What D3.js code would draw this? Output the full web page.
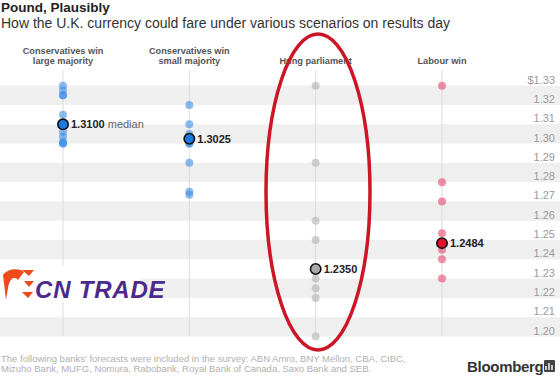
<!DOCTYPE html>
<html><head><meta charset="utf-8">
<script src="https://cdn.jsdelivr.net/npm/d3@7"></script>
<style>
html,body{margin:0;padding:0;background:#fff;overflow:hidden}
text{font-family:"Liberation Sans",Arial,Helvetica,sans-serif}
</style></head>
<body><svg id="chart" width="560" height="377"></svg>
<script>
// ---- data ----
const categories = ["Conservatives win large majority","Conservatives win small majority","Hung parliament","Labour win"];
const headerLines = [["Conservatives win","large majority"],["Conservatives win","small majority"],["Hung parliament"],["Labour win"]];
const largeMajority = [1.33, 1.3275, 1.325, 1.325, 1.315, 1.306, 1.3035, 1.301, 1.30, 1.30];
const smallMajority = [1.32, 1.31, 1.305, 1.30, 1.30, 1.29, 1.275, 1.2735];
const hungParliament = [1.33, 1.29, 1.26, 1.25, 1.23, 1.225, 1.22, 1.20];
const labourWin = [1.33, 1.28, 1.27, 1.2535, 1.2484, 1.245, 1.24, 1.23];
const medians = [1.3100, 1.3025, 1.2350, 1.2484];
const medianLabels = ["1.3100","1.3025","1.2350","1.2484"];
const tickValues = [1.33,1.32,1.31,1.30,1.29,1.28,1.27,1.26,1.25,1.24,1.23,1.22,1.21,1.20];
const tickLabels = ["$1.33","1.32","1.31","1.30","1.29","1.28","1.27","1.26","1.25","1.24","1.23","1.22","1.21","1.20"];
const bandStarts = [1.33,1.31,1.29,1.27,1.25,1.23,1.21];
const seriesValues = [largeMajority, smallMajority, hungParliament, labourWin];
const dotColors = ["#3d90e6","#3d90e6","#b3b3b3","#e8466f"];
const medianColors = ["#1a7ae0","#1a7ae0","#a8a8a8","#e0102c"];
const footnote = ["The following banks' forecasts were included in the survey: ABN Amro, BNY Mellon, CBA, CIBC,",
                  "Mizuho Bank, MUFG, Nomura, Rabobank, Royal Bank of Canada, Saxo Bank and SEB."];

const svg = d3.select("#chart");
const y = d3.scaleLinear().domain([1.20,1.33]).range([336.5,85.7]);
const x = d3.scalePoint().domain(categories).range([63,442]);

// bands
svg.append("g").selectAll("rect").data(bandStarts).join("rect")
  .attr("x",0).attr("width",560)
  .attr("y",d=>y(d)).attr("height",d=>y(d-0.01)-y(d))
  .attr("fill","#efefef");

// tick labels
svg.append("g").selectAll("text").data(tickValues).join("text")
  .attr("x",555).attr("y",d=>y(d)-2)
  .attr("text-anchor","end").attr("font-size",11).attr("fill","#9a9a9a")
  .text((d,i)=>tickLabels[i]);

// column lines
svg.append("g").selectAll("line").data(categories).join("line")
  .attr("x1",d=>x(d)).attr("x2",d=>x(d)).attr("y1",70).attr("y2",336)
  .attr("stroke","#dcdcdc").attr("stroke-width",1);

// headers
categories.forEach((c,i)=>{
  const lines = headerLines[i];
  const t = svg.append("text").attr("x",x(c)).attr("text-anchor","middle")
    .attr("font-size",9.2).attr("font-weight","bold").attr("fill","#555");
  lines.forEach((l,j)=>{
    t.append("tspan").attr("x",x(c)).attr("y",64 - (lines.length-1-j)*10.5).text(l);
  });
});

// dots
categories.forEach((c,i)=>{
  svg.append("g").selectAll("circle").data(seriesValues[i]).join("circle")
    .attr("cx",x(c)).attr("cy",d=>y(d)).attr("r",4)
    .attr("fill",dotColors[i]).attr("fill-opacity",0.6);
});

// medians
categories.forEach((c,i)=>{
  svg.append("circle").attr("cx",x(c)).attr("cy",y(medians[i])).attr("r",5.2)
    .attr("fill",medianColors[i]).attr("stroke","#111").attr("stroke-width",1.6);
  const t = svg.append("text").attr("x",x(c)+8).attr("y",y(medians[i])+4)
    .attr("font-size",11).attr("fill","#222");
  t.append("tspan").attr("font-weight","bold").text(medianLabels[i]);
  if(i===0) t.append("tspan").attr("fill","#666").text(" median");
});

// title
svg.append("text").attr("x",1).attr("y",12).attr("font-size",13.5).attr("font-weight","bold").attr("fill","#222").text("Pound, Plausibly");
svg.append("text").attr("x",1).attr("y",27.5).attr("font-size",14).attr("fill","#333")
  .text("How the U.K. currency could fare under various scenarios on results day");

// footnote
footnote.forEach((f,i)=>{
  svg.append("text").attr("x",1).attr("y",361.5+i*10.5).attr("font-size",9.5).attr("fill","#b0b0b0").text(f);
});

// Bloomberg logo
svg.append("text").attr("x",467).attr("y",372).attr("font-size",15).attr("font-weight","bold").attr("fill","#333")
  .attr("letter-spacing",-0.3).text("Bloomberg");
svg.append("rect").attr("x",544).attr("y",360).attr("width",11).attr("height",12).attr("rx",1).attr("fill","#444");
svg.append("path").attr("d","M546,370 L546,366 M549,370 L549,363 M552,370 L552,365").attr("stroke","#fff").attr("stroke-width",1.4);

// watermark
svg.append("rect").attr("x",0).attr("y",266).attr("width",140).attr("height",36).attr("fill","#fff");
svg.append("path").attr("d","M3,275 C8,268 20,268 24,272 L18,280 C14,276 10,278 8,288 L6,300 Z").attr("fill","#ee4a1c");
svg.append("path").attr("d","M22,270 L34,270 L29,276 Z M24,281 L34,281 L29,287 Z M22,292 L33,292 L28,298 Z").attr("fill","#ee4a1c");
svg.append("text").attr("x",35).attr("y",298).attr("font-size",24).attr("font-weight","bold").attr("font-style","italic")
  .attr("fill","#4b2a8c").attr("letter-spacing",0.8).text("CN TRADE");

// red ellipse annotation
svg.append("ellipse").attr("cx",318).attr("cy",192).attr("rx",52).attr("ry",158)
  .attr("fill","none").attr("stroke","#cc1626").attr("stroke-width",3.5);
</script></body></html>
